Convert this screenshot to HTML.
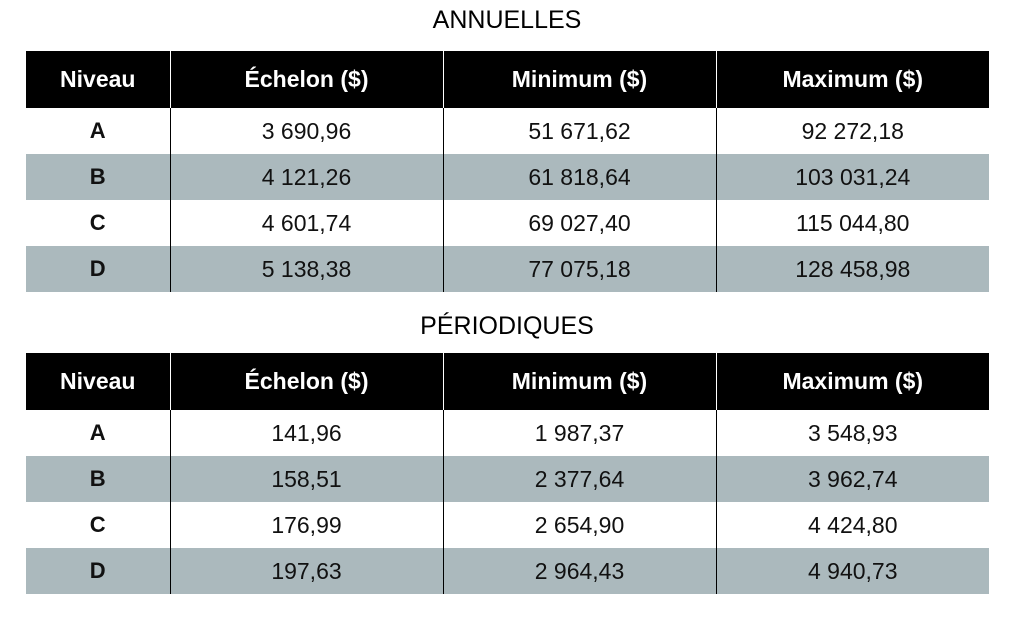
<!DOCTYPE html>
<html><head><meta charset="utf-8"><style>
body{margin:0;width:1014px;height:630px;background:#fff;font-family:"Liberation Sans Narrow","Liberation Sans",sans-serif;position:relative;overflow:hidden}
.title{position:absolute;left:0;width:1014px;text-align:center;font-size:25px;color:#000}
table{position:absolute;left:26px;width:963px;border-collapse:collapse;table-layout:fixed}
th{background:#000;color:#fff;font-weight:bold;font-size:23px;height:57px;padding:0;border-left:1px solid #fff}
th:first-child{border-left:none}
td{font-size:23px;height:46px;padding:0;text-align:center;border-left:1px solid #000;color:#111}
td:first-child{border-left:none;font-weight:bold;font-family:"Liberation Sans",sans-serif;font-size:22px}
tr.g td{background:#abb9bd}
</style></head><body>
<div class="title" style="top:6px">ANNUELLES</div>
<table style="top:51px">
<colgroup><col style="width:144px"><col style="width:273px"><col style="width:273px"><col style="width:273px"></colgroup>
<tr><th>Niveau</th><th>Échelon ($)</th><th>Minimum ($)</th><th>Maximum ($)</th></tr>
<tr><td>A</td><td>3 690,96</td><td>51 671,62</td><td>92 272,18</td></tr>
<tr class="g"><td>B</td><td>4 121,26</td><td>61 818,64</td><td>103 031,24</td></tr>
<tr><td>C</td><td>4 601,74</td><td>69 027,40</td><td>115 044,80</td></tr>
<tr class="g"><td>D</td><td>5 138,38</td><td>77 075,18</td><td>128 458,98</td></tr>
</table>
<div class="title" style="top:312px">PÉRIODIQUES</div>
<table style="top:353px">
<colgroup><col style="width:144px"><col style="width:273px"><col style="width:273px"><col style="width:273px"></colgroup>
<tr><th>Niveau</th><th>Échelon ($)</th><th>Minimum ($)</th><th>Maximum ($)</th></tr>
<tr><td>A</td><td>141,96</td><td>1 987,37</td><td>3 548,93</td></tr>
<tr class="g"><td>B</td><td>158,51</td><td>2 377,64</td><td>3 962,74</td></tr>
<tr><td>C</td><td>176,99</td><td>2 654,90</td><td>4 424,80</td></tr>
<tr class="g"><td>D</td><td>197,63</td><td>2 964,43</td><td>4 940,73</td></tr>
</table>
</body></html>
